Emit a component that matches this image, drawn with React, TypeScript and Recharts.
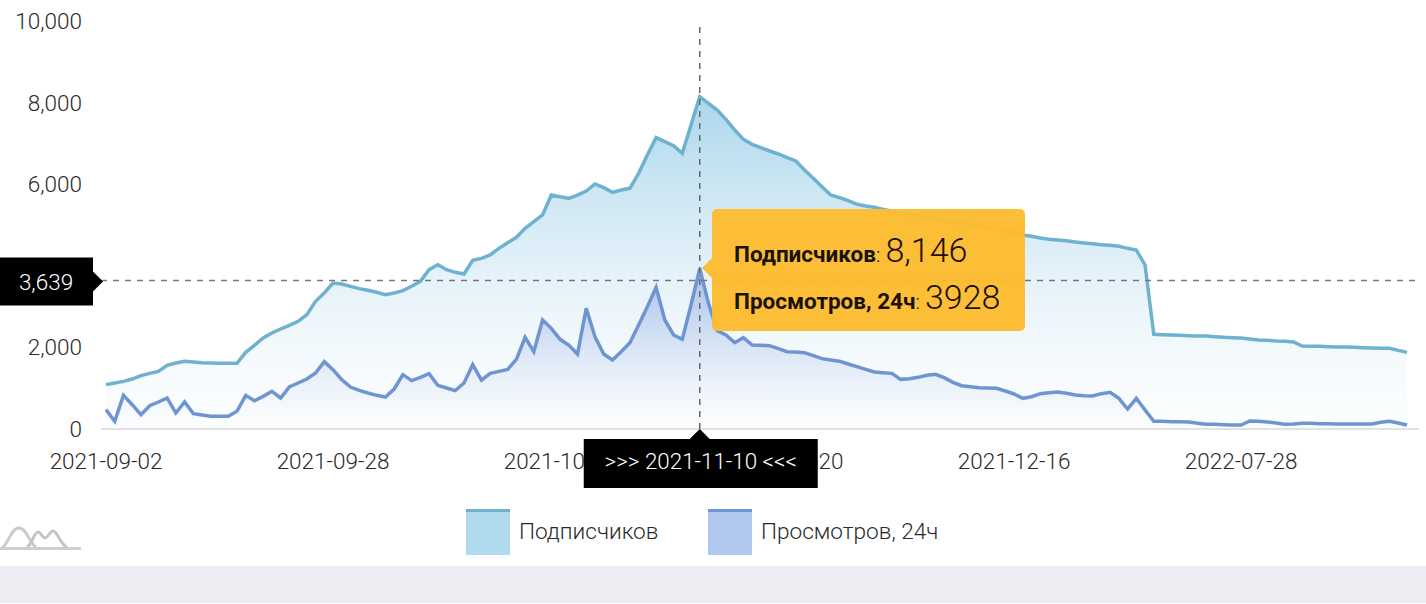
import { Area, AreaChart, Legend, ReferenceLine, Tooltip, XAxis, YAxis } from "recharts";

const FONT = "Roboto, sans-serif";
const TEXT_COLOR = "#2a2a2a";

const SUBS_NAME = "Подписчиков";
const VIEWS_NAME = "Просмотров, 24ч";

const TICK_LABELS = ["2021-09-02", "2021-09-28", "2021-10-24", "2021-11-20", "2021-12-16", "2022-07-28"];
const Y_TICKS = [0, 2000, 4000, 6000, 8000, 10000];

const ACTIVE_INDEX = 68;
const ACTIVE_DATE = "2021-11-10";
const CURSOR_VALUE = 3639;

const SUBS = [
  1087, 1127, 1168, 1225, 1307, 1364, 1413, 1560, 1618, 1658,
  1642, 1626, 1618, 1609, 1609, 1609, 1879, 2051, 2230, 2353,
  2451, 2541, 2639, 2802, 3129, 3333, 3578, 3554, 3497, 3440,
  3399, 3350, 3293, 3333, 3391, 3497, 3619, 3905, 4028, 3905,
  3840, 3799, 4134, 4183, 4265, 4428, 4567, 4698, 4918, 5082,
  5245, 5735, 5694, 5654, 5735, 5833, 6005, 5915, 5801, 5858,
  5899, 6266, 6716, 7141, 7043, 6945, 6757, 7451, 8146, 7982,
  7819, 7590, 7329, 7100, 6977, 6895, 6814, 6740, 6650, 6569,
  6348, 6144, 5939, 5735, 5670, 5596, 5507, 5466, 5433, 5384,
  5340, 5300, 5265, 5225, 5190, 5150, 5110, 5075, 5040, 5005,
  4970, 4935, 4900, 4860, 4825, 4755, 4722, 4681, 4649, 4632,
  4616, 4583, 4559, 4543, 4518, 4502, 4477, 4428, 4387, 4020,
  2320, 2312, 2304, 2296, 2288, 2279, 2279, 2263, 2247, 2239,
  2230, 2206, 2181, 2173, 2157, 2149, 2132, 2034, 2026, 2026,
  2018, 2010, 2010, 2002, 1994, 1985, 1977, 1977, 1928, 1879,
];

const VIEWS = [
  474, 188, 825, 596, 351, 572, 662, 760, 392, 662,
  376, 343, 310, 310, 310, 433, 825, 694, 800, 923,
  760, 1029, 1127, 1225, 1372, 1650, 1454, 1209, 1029, 948,
  882, 825, 784, 980, 1332, 1185, 1266, 1356, 1070, 1005,
  940, 1127, 1577, 1200, 1364, 1413, 1462, 1707, 2247, 1895,
  2672, 2467, 2198, 2059, 1838, 2958, 2263, 1838, 1691, 1895,
  2116, 2549, 2998, 3472, 2672, 2304, 2198, 3039, 3928, 3080,
  2410, 2304, 2116, 2239, 2059, 2051, 2043, 1969, 1895, 1887,
  1871, 1797, 1724, 1691, 1659, 1593, 1528, 1462, 1397, 1381,
  1364, 1217, 1234, 1266, 1315, 1340, 1258, 1144, 1062, 1038,
  1013, 1005, 997, 931, 858, 752, 792, 866, 890, 907,
  874, 833, 817, 809, 866, 899, 752, 490, 752, 466,
  188, 188, 180, 180, 172, 139, 114, 114, 106, 98,
  98, 196, 188, 172, 147, 114, 122, 139, 139, 131,
  131, 122, 122, 122, 122, 122, 163, 188, 147, 98,
];

const chartData = SUBS.map((subs, i) => ({ i, subs, views: VIEWS[i] }));

const formatTick = (i: number) => TICK_LABELS[i / 26] ?? "";

function CursorY({ viewBox }: any) {
  const y = viewBox.y + 1;
  return (
    <g>
      <path d={`M0 ${y - 24} H93 V${y - 10} L103 ${y} L93 ${y + 10} V${y + 24} H0 Z`} fill="#000" />
      <text x={46} y={y + 8} textAnchor="middle" fill="#fff" fontSize={22.5} fontWeight={300} fontFamily={FONT}>
        {CURSOR_VALUE.toLocaleString("en-US")}
      </text>
    </g>
  );
}

function CursorX({ viewBox }: any) {
  const x = viewBox.x;
  const y = viewBox.y + viewBox.height;
  return (
    <g>
      <path
        d={`M${x - 116} ${y + 10} H${x - 10} L${x} ${y} L${x + 10} ${y + 10} H${x + 118} V${y + 59} H${x - 116} Z`}
        fill="#000"
      />
      <text x={x + 1} y={y + 40} textAnchor="middle" fill="#fff" fontSize={22.4} fontWeight={300} fontFamily={FONT}>
        {`>>> ${ACTIVE_DATE} <<<`}
      </text>
    </g>
  );
}

function TooltipBox({ payload }: any) {
  if (!payload || payload.length === 0) return null;
  const subs = payload.find((p: any) => p.dataKey === "subs");
  const views = payload.find((p: any) => p.dataKey === "views");
  const rowStyle = { height: 46, lineHeight: "46px", whiteSpace: "nowrap" as const };
  const nameStyle = { fontSize: 22.5, fontWeight: 700 };
  const valueStyle = { fontSize: 34, fontWeight: 300 };
  return (
    <div style={{ position: "relative", width: 313, height: 122, fontFamily: FONT, color: "#1a1208" }}>
      <div
        style={{
          position: "absolute",
          left: -10,
          top: 49,
          width: 0,
          height: 0,
          borderTop: "10px solid transparent",
          borderBottom: "10px solid transparent",
          borderRight: "10px solid rgba(253,187,47,0.96)",
        }}
      />
      <div
        style={{
          position: "absolute",
          inset: 0,
          background: "rgba(253,187,47,0.96)",
          borderRadius: 5,
          padding: "18px 0 0 22px",
          boxSizing: "border-box",
        }}
      >
        <div style={rowStyle}>
          <span style={nameStyle}>{SUBS_NAME}</span>
          <span style={{ fontWeight: 300, fontSize: 21 }}>: </span>
          <span style={valueStyle}>{subs.value.toLocaleString("en-US")}</span>
        </div>
        <div style={{ ...rowStyle, marginTop: 1 }}>
          <span style={nameStyle}>{VIEWS_NAME}</span>
          <span style={{ fontWeight: 300, fontSize: 21 }}>: </span>
          <span style={valueStyle}>{views.value}</span>
        </div>
      </div>
    </div>
  );
}

function LegendBox() {
  const items = [
    { name: SUBS_NAME, left: 466, fill: "#b0daee", top: "#6fb2cf" },
    { name: VIEWS_NAME, left: 708, fill: "#b1c8ee", top: "#6f95d4" },
  ];
  return (
    <div style={{ position: "relative", height: 46, fontFamily: FONT }}>
      {items.map((item) => (
        <div key={item.name}>
          <div
            style={{
              position: "absolute",
              left: item.left,
              top: 0,
              width: 44,
              height: 43,
              background: item.fill,
              borderTop: `3px solid ${item.top}`,
            }}
          />
          <span
            style={{
              position: "absolute",
              left: item.left + 53,
              top: 9,
              fontSize: 22.6,
              fontWeight: 300,
              lineHeight: "28px",
              color: TEXT_COLOR,
              whiteSpace: "nowrap",
            }}
          >
            {item.name}
          </span>
        </div>
      ))}
    </div>
  );
}

export default function App() {
  return (
    <div style={{ position: "absolute", left: 0, top: 0, width: 1426, height: 604, overflow: "hidden", background: "#fff" }}>
      <AreaChart
        width={1426}
        height={604}
        data={chartData}
        margin={{ top: 21, right: 7, bottom: 0, left: 0 }}
      >
        <defs>
          <linearGradient id="subsFill" x1="0" y1="0" x2="0" y2="1">
            <stop offset="0%" stopColor="#9bcfe8" stopOpacity={0.85} />
            <stop offset="100%" stopColor="#e4f1fa" stopOpacity={0.1} />
          </linearGradient>
          <linearGradient id="viewsFill" x1="0" y1="0" x2="0" y2="1">
            <stop offset="0%" stopColor="#7d9ce0" stopOpacity={0.6} />
            <stop offset="100%" stopColor="#c5d3f2" stopOpacity={0} />
          </linearGradient>
        </defs>
        <XAxis
          dataKey="i"
          height={129}
          interval={25}
          padding={{ left: 5, right: 12 }}
          tickFormatter={formatTick}
          tickLine={false}
          tickSize={0}
          tickMargin={24}
          axisLine={{ stroke: "#d9d9d9", strokeWidth: 1.5 }}
          tick={{ fontSize: 22.5, fontWeight: 300, fontFamily: FONT, fill: TEXT_COLOR }}
        />
        <YAxis
          width={101}
          domain={[0, 10000]}
          ticks={Y_TICKS}
          tickFormatter={(v: number) => v.toLocaleString("en-US")}
          tickLine={false}
          axisLine={false}
          tickSize={0}
          tickMargin={19}
          tick={{ fontSize: 22.5, fontWeight: 300, fontFamily: FONT, fill: TEXT_COLOR }}
        />
        <Area
          type="linear"
          dataKey="subs"
          name={SUBS_NAME}
          stroke="#6fb2cf"
          strokeWidth={3.5}
          fill="url(#subsFill)"
          fillOpacity={1}
          dot={false}
          activeDot={false}
          isAnimationActive={false}
        />
        <Area
          type="linear"
          dataKey="views"
          name={VIEWS_NAME}
          stroke="#6f95d0"
          strokeWidth={3.5}
          fill="url(#viewsFill)"
          fillOpacity={1}
          dot={false}
          activeDot={false}
          isAnimationActive={false}
        />
        <ReferenceLine
          y={CURSOR_VALUE}
          stroke="#777"
          strokeWidth={1.5}
          strokeDasharray="6 6"
          zIndex={2500}
          label={<CursorY />}
        />
        <ReferenceLine
          x={ACTIVE_INDEX}
          stroke="#666"
          strokeWidth={1.5}
          strokeDasharray="6 6"
          zIndex={2500}
          label={<CursorX />}
        />
        <Tooltip
          active
          defaultIndex={ACTIVE_INDEX}
          position={{ x: 712, y: 209 }}
          cursor={false}
          isAnimationActive={false}
          allowEscapeViewBox={{ x: true, y: true }}
          wrapperStyle={{ outline: "none", zIndex: 5 }}
          content={<TooltipBox />}
        />
        <Legend
          content={<LegendBox />}
          wrapperStyle={{ left: 0, top: 509, width: 1426, height: 46 }}
        />
      </AreaChart>
      {/* small site logo, bottom left */}
      <svg width={84} height={40} style={{ position: "absolute", left: 0, top: 515 }}>
        <path d="M2 33 C9 28 11 13 19 13 C27 13 29 28 36 32" fill="none" stroke="#cacaca" strokeWidth={3} />
        <path d="M27 32 C32 30 34 17 38 17 C41 17 42 23 45 23 C48 23 50 16 53 16 C57 16 60 28 67 33" fill="none" stroke="#c4c4c4" strokeWidth={3} />
        <path d="M0 33.5 H81" fill="none" stroke="#cfcfcf" strokeWidth={3} />
      </svg>
      <div style={{ position: "absolute", left: 0, top: 566, width: 1426, height: 37, background: "#ececf2" }} />
    </div>
  );
}
